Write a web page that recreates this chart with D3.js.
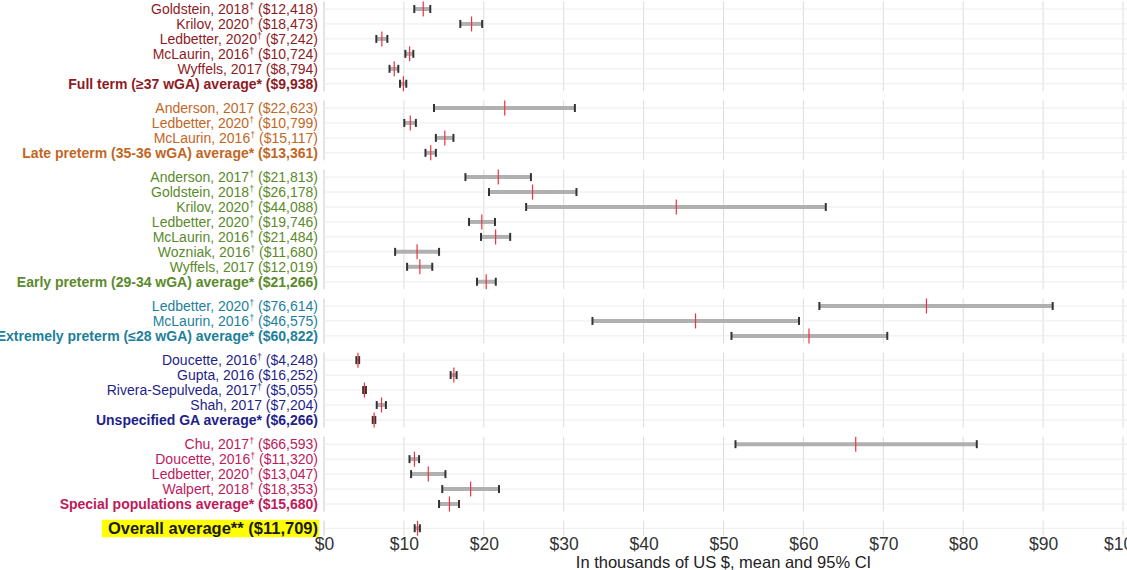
<!DOCTYPE html>
<html>
<head>
<meta charset="utf-8">
<script src="https://cdn.jsdelivr.net/npm/d3@7"></script>
<style>
  body { margin: 0; background: #fff; }
  svg { display: block; font-family: "Liberation Sans", Arial, sans-serif; }
</style>
</head>
<body>
<div id="chart"></div>
<script>
// COST FOREST PLOT, grouped by gestational age

// group names and colours (one panel each)
var groupNames = ["Full term", "Late preterm", "Early preterm", "Extremely preterm",
                  "Unspecified GA", "Special populations", "Overall"];
var groupColors = ["#8e1b1f", "#c2661f", "#5b8a2c", "#1e7f9a", "#1f1f8a", "#bd1a5c", "#1a1a1a"];

// row labels (dagger drawn as superscript where flagged)
var rowNames = [
  "Goldstein, 2018", "Krilov, 2020", "Ledbetter, 2020", "McLaurin, 2016", "Wyffels, 2017",
  "Full term (≥37 wGA) average*",
  "Anderson, 2017", "Ledbetter, 2020", "McLaurin, 2016",
  "Late preterm (35-36 wGA) average*",
  "Anderson, 2017", "Goldstein, 2018", "Krilov, 2020", "Ledbetter, 2020", "McLaurin, 2016",
  "Wozniak, 2016", "Wyffels, 2017",
  "Early preterm (29-34 wGA) average*",
  "Ledbetter, 2020", "McLaurin, 2016",
  "Extremely preterm (≤28 wGA) average*",
  "Doucette, 2016", "Gupta, 2016", "Rivera-Sepulveda, 2017", "Shah, 2017",
  "Unspecified GA average*",
  "Chu, 2017", "Doucette, 2016", "Ledbetter, 2020", "Walpert, 2018",
  "Special populations average*",
  "Overall average**"
];
var rowCosts = [
  "($12,418)", "($18,473)", "($7,242)", "($10,724)", "($8,794)", "($9,938)",
  "($22,623)", "($10,799)", "($15,117)", "($13,361)",
  "($21,813)", "($26,178)", "($44,088)", "($19,746)", "($21,484)", "($11,680)", "($12,019)", "($21,266)",
  "($76,614)", "($46,575)", "($60,822)",
  "($4,248)", "($16,252)", "($5,055)", "($7,204)", "($6,266)",
  "($66,593)", "($11,320)", "($13,047)", "($18,353)", "($15,680)",
  "($11,709)"
];
var rowDagger = [
  1, 1, 1, 1, 0, 0,
  0, 1, 1, 0,
  1, 1, 1, 1, 1, 1, 0, 0,
  1, 1, 0,
  1, 0, 1, 0, 0,
  1, 1, 1, 1, 0,
  0
];
var rowBold = [
  0, 0, 0, 0, 0, 1,
  0, 0, 0, 1,
  0, 0, 0, 0, 0, 0, 0, 1,
  0, 0, 1,
  0, 0, 0, 0, 1,
  0, 0, 0, 0, 1,
  1
];
var rowGroup = [
  0, 0, 0, 0, 0, 0,
  1, 1, 1, 1,
  2, 2, 2, 2, 2, 2, 2, 2,
  3, 3, 3,
  4, 4, 4, 4, 4,
  5, 5, 5, 5, 5,
  6
];

// mean and 95% CI, thousands of US $
var means = [
  12.42, 18.47, 7.24, 10.72, 8.79, 9.94,
  22.62, 10.8, 15.12, 13.36,
  21.81, 26.1, 44.09, 19.75, 21.48, 11.65, 12.0, 20.3,
  75.4, 46.5, 60.7,
  4.25, 16.25, 5.06, 7.2, 6.27,
  66.55, 11.32, 13.05, 18.35, 15.7,
  11.71
];
var lows = [
  11.3, 17.06, 6.55, 10.18, 8.2, 9.51,
  13.77, 10.05, 14.0, 12.7,
  17.7, 20.65, 25.3, 18.15, 19.65, 8.9, 10.4, 19.15,
  62.0, 33.6, 51.0,
  4.05, 15.85, 4.9, 6.6, 6.1,
  51.5, 10.7, 10.9, 14.8, 14.4,
  11.35
];
var highs = [
  13.3, 19.8, 7.93, 11.18, 9.3, 10.3,
  31.4, 11.5, 16.2, 14.0,
  25.9, 31.6, 62.8, 21.4, 23.3, 14.4, 13.55, 21.5,
  91.2, 59.45, 70.5,
  4.4, 16.6, 5.25, 7.75, 6.42,
  81.7, 11.9, 15.2, 21.9, 16.9,
  12.0
];
var xTicks = [0, 10, 20, 30, 40, 50, 60, 70, 80, 90, 100];

var W = 1127, H = 570;
var plotLeft = 324, plotRight = 1123;
var rowStep = 14.95, groupGap = 9.3, firstY = 9;

var x = d3.scaleLinear()
    .domain([0, 100])
    .range([plotLeft, plotRight]);

// y position of every row: fixed step, extra gap between groups
function rowY(i) {
  return firstY + i * rowStep + rowGroup[i] * groupGap;
}

var svg = d3.select("#chart")
  .append("svg")
    .attr("width", W)
    .attr("height", H);

// panels, one per group
var panels = groupNames.map(function(g, gi) {
  var idx = d3.range(rowNames.length).filter(function(i) { return rowGroup[i] === gi; });
  return {top: rowY(idx[0]) - 7.5, bottom: rowY(idx[idx.length - 1]) + 7.5};
});

var grid = svg.append("g").attr("class", "grid");

panels.forEach(function(p) {
  grid.selectAll(null)
      .data(xTicks)
    .enter().append("line")
      .attr("x1", function(d) { return x(d); })
      .attr("x2", function(d) { return x(d); })
      .attr("y1", p.top)
      .attr("y2", p.bottom)
      .attr("stroke", function(d) { return d === 0 ? "#c8c8c8" : "#dcdcdc"; })
      .attr("stroke-width", 1);
});

// horizontal row lines
grid.selectAll(".hline")
    .data(rowNames)
  .enter().append("line")
    .attr("class", "hline")
    .attr("x1", plotLeft)
    .attr("x2", W)
    .attr("y1", function(d, i) { return rowY(i); })
    .attr("y2", function(d, i) { return rowY(i); })
    .attr("stroke", "#ececec")
    .attr("stroke-width", 1);

// CI bars
var rows = svg.append("g").selectAll("g")
    .data(rowNames)
  .enter().append("g")
    .attr("transform", function(d, i) { return "translate(0," + rowY(i) + ")"; });

rows.append("line")
    .attr("x1", function(d, i) { return x(lows[i]); })
    .attr("x2", function(d, i) { return x(highs[i]); })
    .attr("stroke", "#b0b0b0")
    .attr("stroke-width", 4);

rows.append("line")
    .attr("x1", function(d, i) { return x(lows[i]); })
    .attr("x2", function(d, i) { return x(lows[i]); })
    .attr("y1", -4).attr("y2", 4)
    .attr("stroke", "#333")
    .attr("stroke-width", 2);

rows.append("line")
    .attr("x1", function(d, i) { return x(highs[i]); })
    .attr("x2", function(d, i) { return x(highs[i]); })
    .attr("y1", -4).attr("y2", 4)
    .attr("stroke", "#333")
    .attr("stroke-width", 2);

// mean marker
rows.append("line")
    .attr("x1", function(d, i) { return x(means[i]); })
    .attr("x2", function(d, i) { return x(means[i]); })
    .attr("y1", -7.5).attr("y2", 7.5)
    .attr("stroke", "#f03040")
    .attr("stroke-width", 1.2);

// labels
var last = rowNames.length - 1;
var labels = svg.append("g").selectAll("text")
    .data(rowNames)
  .enter().append("text")
    .attr("x", plotLeft - 6)
    .attr("y", function(d, i) { return rowY(i); })
    .attr("dy", "0.36em")
    .attr("text-anchor", "end")
    .attr("font-size", function(d, i) { return i === last ? 16.5 : 14; })
    .attr("font-weight", function(d, i) { return rowBold[i] ? "bold" : "normal"; })
    .attr("fill", function(d, i) { return groupColors[rowGroup[i]]; });

labels.each(function(d, i) {
  var t = d3.select(this);
  t.append("tspan").text(d);
  if (rowDagger[i]) {
    t.append("tspan").attr("font-size", 9).attr("dy", -5).text("†");
    t.append("tspan").attr("dy", 5).text(" " + rowCosts[i]);
  } else {
    t.append("tspan").text(" " + rowCosts[i]);
  }
});

// yellow highlight behind the overall label
var overallNode = labels.filter(function(d, i) { return i === last; }).node();
var bb = overallNode.getBBox();
svg.insert("rect", "g")
    .attr("x", bb.x - 6)
    .attr("y", rowY(last) - 8.5)
    .attr("width", bb.width + 7)
    .attr("height", 17.5)
    .attr("fill", "#ffff00");

// x axis
var axisY = panels[panels.length - 1].bottom;
var xAxis = svg.append("g")
    .attr("transform", "translate(0," + axisY + ")")
    .call(d3.axisBottom(x)
      .tickValues(xTicks)
      .tickSize(0)
      .tickPadding(2)
      .tickFormat(function(d) { return "$" + d; }));

xAxis.select(".domain").remove();
xAxis.selectAll("text")
    .attr("font-size", 17.5)
    .attr("font-family", "Liberation Sans, Arial, sans-serif")
    .attr("fill", "#333");

svg.append("text")
    .attr("x", (plotLeft + plotRight) / 2)
    .attr("y", 568)
    .attr("text-anchor", "middle")
    .attr("font-size", 16.5)
    .attr("fill", "#222")
    .text("In thousands of US $, mean and 95% CI");
</script>
</body>
</html>
